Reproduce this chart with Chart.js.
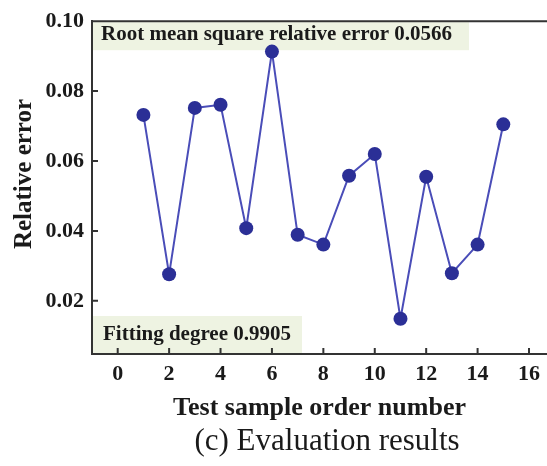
<!DOCTYPE html>
<html>
<head>
<meta charset="utf-8">
<script src="https://cdn.jsdelivr.net/npm/chart.js@4"></script>
<style>
  html, body { margin: 0; padding: 0; background: #fff; }
  #wrap { width: 547px; height: 466px; position: relative; }
</style>
</head>
<body>
<div id="wrap"><canvas id="chart"></canvas></div>
<script>
// data
const sampleNo = [1, 2, 3, 4, 5, 6, 7, 8, 9, 10, 11, 12, 13, 14, 15];
const relError = [0.0732, 0.0276, 0.0752, 0.0761, 0.0408, 0.0913, 0.0389, 0.0361, 0.0558, 0.0620, 0.0149, 0.0555, 0.0279, 0.0361, 0.0705];
const rmseLabel = 'Root mean square relative error 0.0566';
const fitLabel = 'Fitting degree 0.9905';
const caption = '(c) Evaluation results';

const serif = '"Liberation Serif", "Times New Roman", serif';
const ink = '#1a1a1a';

// inward ticks, top frame line, note boxes, y title and caption
const decor = {
    id: 'decor',
    beforeDatasetsDraw(chart) {
        const { ctx, chartArea: a } = chart;
        ctx.save();
        ctx.fillStyle = '#eef3e2';
        ctx.fillRect(a.left + 1, a.top + 1, 376, 28);
        ctx.fillRect(a.left + 1, 316, 209, a.bottom - 317);
        ctx.fillStyle = ink;
        ctx.font = 'bold 21px ' + serif;
        ctx.textBaseline = 'alphabetic';
        ctx.fillText(rmseLabel, a.left + 9, 40);
        ctx.fillText(fitLabel, a.left + 11, 340);
        ctx.restore();
    },
    afterDatasetsDraw(chart) {
        const { ctx, chartArea: a, scales: { x, y } } = chart;
        ctx.save();
        ctx.strokeStyle = '#333';
        ctx.lineWidth = 2;
        ctx.beginPath();
        ctx.moveTo(a.left, a.top);
        ctx.lineTo(a.right, a.top);
        x.ticks.forEach(t => {
            const px = x.getPixelForValue(t.value);
            ctx.moveTo(px, a.bottom);
            ctx.lineTo(px, a.bottom - 6);
        });
        y.ticks.forEach(t => {
            const py = y.getPixelForValue(t.value);
            ctx.moveTo(a.left, py);
            ctx.lineTo(a.left + 6, py);
        });
        ctx.stroke();

        ctx.fillStyle = ink;
        ctx.textAlign = 'center';
        ctx.textBaseline = 'middle';
        ctx.font = 'bold 25px ' + serif;
        ctx.translate(25, 174);
        ctx.rotate(-Math.PI / 2);
        ctx.fillText('Relative error', 0, 0);
        ctx.setTransform(1, 0, 0, 1, 0, 0);
        ctx.font = '31px ' + serif;
        ctx.fillText(caption, 327, 442);
        ctx.restore();
    }
};

new Chart(document.getElementById('chart'), {
    type: 'scatter',
    data: {
        datasets: [{
            data: sampleNo.map((n, i) => ({ x: n, y: relError[i] })),
            showLine: true,
            borderColor: '#4a4db8',
            borderWidth: 2,
            pointRadius: 7,
            pointBackgroundColor: '#2b2f96',
            pointBorderColor: '#2b2f96',
            pointBorderWidth: 0
        }]
    },
    options: {
        responsive: true,
        maintainAspectRatio: false,
        animation: false,
        layout: { autoPadding: false, padding: { top: 16, left: 0, right: 0, bottom: 0 } },
        plugins: { legend: { display: false }, tooltip: { enabled: false } },
        scales: {
            x: {
                type: 'linear',
                min: -1,
                max: 16.7,
                afterFit: s => { s.height = 112; s.paddingRight = 0; s.paddingLeft = 0; },
                grid: { drawOnChartArea: false, drawTicks: false, color: 'rgba(0,0,0,0)' },
                border: { color: '#333', width: 2 },
                ticks: {
                    stepSize: 2,
                    includeBounds: false,
                    padding: 7,
                    color: ink,
                    font: { family: serif, size: 22, weight: 'bold' }
                },
                title: {
                    display: true,
                    text: 'Test sample order number',
                    color: ink,
                    font: { family: serif, size: 26, weight: 'bold' },
                    padding: { top: 0, bottom: 42 }
                }
            },
            y: {
                min: 0.0048,
                max: 0.1,
                afterFit: s => { s.width = 92; },
                grid: { drawOnChartArea: false, drawTicks: false, color: 'rgba(0,0,0,0)' },
                border: { color: '#333', width: 2 },
                ticks: {
                    stepSize: 0.02,
                    includeBounds: false,
                    padding: 8,
                    color: ink,
                    font: { family: serif, size: 22, weight: 'bold' },
                    callback: v => v.toFixed(2)
                }
            }
        }
    },
    plugins: [decor]
});
</script>
</body>
</html>
